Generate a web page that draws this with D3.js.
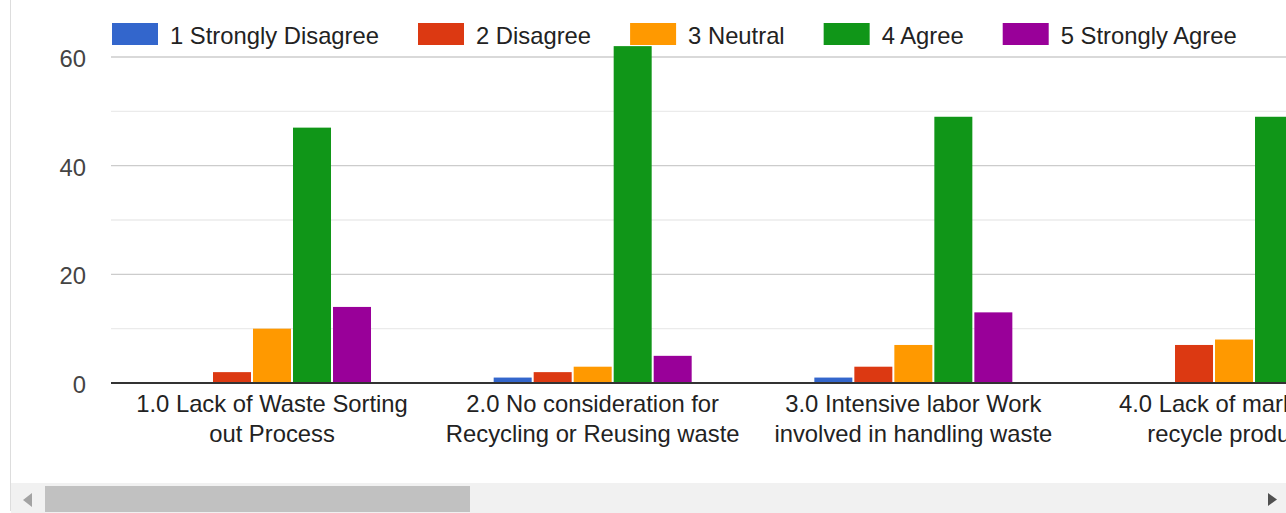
<!DOCTYPE html>
<html>
<head>
<meta charset="utf-8">
<script src="https://cdn.jsdelivr.net/npm/d3@7"></script>
<style>
  html, body { margin: 0; padding: 0; background: #fff; overflow: hidden; }
  svg { display: block; }
  text { font-family: "Liberation Sans", Arial, sans-serif; }
</style>
</head>
<body>
<svg id="chart" width="1286" height="513"></svg>
<script>
// Survey responses per statement (count of respondents per rating)
const categories = [
  ["1.0 Lack of Waste Sorting", "out Process"],
  ["2.0 No consideration for", "Recycling or Reusing waste"],
  ["3.0 Intensive labor Work", "involved in handling waste"],
  ["4.0 Lack of market for", "recycle products"]
];
const seriesNames = ["1 Strongly Disagree", "2 Disagree", "3 Neutral", "4 Agree", "5 Strongly Agree"];
const seriesColors = ["#3366cc", "#dc3912", "#ff9900", "#109618", "#990099"];
const stronglyDisagree = [0, 1, 1, 0];
const disagree = [2, 2, 3, 7];
const neutral = [10, 3, 7, 8];
const agree = [47, 62, 49, 49];
const stronglyAgree = [14, 5, 13, null];
const yTicks = [0, 20, 40, 60];
const yMinorTicks = [10, 30, 50];

const series = [stronglyDisagree, disagree, neutral, agree, stronglyAgree];
const catKeys = categories.map((c, i) => i);

const W = 1286, H = 513;
const svg = d3.select("#chart");

const plotLeft = 111;
const bandStart = 111.67;
const groupStep = 320.67;
const groupWidth = 198;

const x0 = d3.scaleBand()
  .domain(catKeys)
  .range([bandStart, bandStart + groupStep * categories.length])
  .paddingInner(0).paddingOuter(0);

const x1 = d3.scaleBand()
  .domain(d3.range(seriesNames.length))
  .range([0, groupWidth])
  .paddingInner(0.05)
  .paddingOuter(0);

const y = d3.scaleLinear().domain([0, 60]).range([383, 57]);

// Clip the scrolled plot area to the visible viewport
svg.append("defs").append("clipPath").attr("id", "view")
  .append("rect").attr("x", 11).attr("y", 0).attr("width", W - 11).attr("height", 483);

const plot = svg.append("g").attr("clip-path", "url(#view)");

// Gridlines
plot.selectAll("line.minor").data(yMinorTicks).join("line")
  .attr("class", "minor")
  .attr("x1", plotLeft).attr("x2", W)
  .attr("y1", d => y(d)).attr("y2", d => y(d))
  .attr("stroke", "#ebebeb").attr("stroke-width", 1.3);

plot.selectAll("line.major").data(yTicks.filter(d => d !== 0)).join("line")
  .attr("class", "major")
  .attr("x1", plotLeft).attr("x2", W)
  .attr("y1", d => y(d)).attr("y2", d => y(d))
  .attr("stroke", "#cccccc").attr("stroke-width", 1.3);

// Bars
const groups = plot.selectAll("g.cat").data(catKeys).join("g")
  .attr("class", "cat")
  .attr("transform", d => `translate(${x0(d) + x0.bandwidth() / 2 - groupWidth / 2},0)`);

groups.selectAll("rect").data(ci => series.map((s, si) => ({ si, v: s[ci] })).filter(d => d.v))
  .join("rect")
  .attr("x", d => x1(d.si))
  .attr("width", x1.bandwidth())
  .attr("y", d => y(d.v))
  .attr("height", d => y(0) - y(d.v))
  .attr("fill", d => seriesColors[d.si]);

// Baseline
plot.append("line")
  .attr("x1", plotLeft).attr("x2", W)
  .attr("y1", y(0)).attr("y2", y(0))
  .attr("stroke", "#333333").attr("stroke-width", 2);

// Category labels (two lines each)
groups.each(function (ci) {
  const t = d3.select(this).append("text")
    .attr("text-anchor", "middle")
    .attr("font-size", "23.8px")
    .attr("fill", "#222222");
  categories[ci].forEach((line, li) => {
    t.append("tspan").attr("x", groupWidth / 2).attr("y", 412 + li * 30).text(line);
  });
});

// Y axis tick labels
const yAxis = d3.axisLeft(y).tickValues(yTicks).tickSize(0).tickPadding(0);
const yg = svg.append("g").attr("transform", "translate(86,0)").call(yAxis);
yg.select(".domain").remove();
yg.selectAll("text")
  .attr("font-size", "23.8px")
  .attr("font-family", "'Liberation Sans', Arial, sans-serif")
  .attr("fill", "#444444")
  .attr("dy", "9.6px");

// Legend
const legend = svg.append("g");
let lx = 112;
seriesNames.forEach((name, i) => {
  legend.append("rect")
    .attr("x", lx).attr("y", 23).attr("width", 46).attr("height", 22)
    .attr("fill", seriesColors[i]);
  const t = legend.append("text")
    .attr("x", lx + 58).attr("y", 43.5)
    .attr("font-size", "23.8px")
    .attr("fill", "#222222")
    .text(name);
  lx = lx + 58 + t.node().getComputedTextLength() + 39;
});

// Container frame and horizontal scrollbar
svg.append("line")
  .attr("x1", 10.5).attr("x2", 10.5).attr("y1", 0).attr("y2", 511)
  .attr("stroke", "#dddddd").attr("stroke-width", 1);
svg.append("rect")
  .attr("x", 11).attr("y", 483).attr("width", W - 11).attr("height", 30)
  .attr("fill", "#f1f1f1");
svg.append("rect")
  .attr("x", 45).attr("y", 486).attr("width", 425).attr("height", 26)
  .attr("fill", "#c1c1c1");
svg.append("path")
  .attr("d", "M23,500 L32,493 L32,507 Z")
  .attr("fill", "#a3a3a3");
svg.append("path")
  .attr("d", "M1268,493 L1277,499.5 L1268,506 Z")
  .attr("fill", "#505050");
</script>
</body>
</html>
